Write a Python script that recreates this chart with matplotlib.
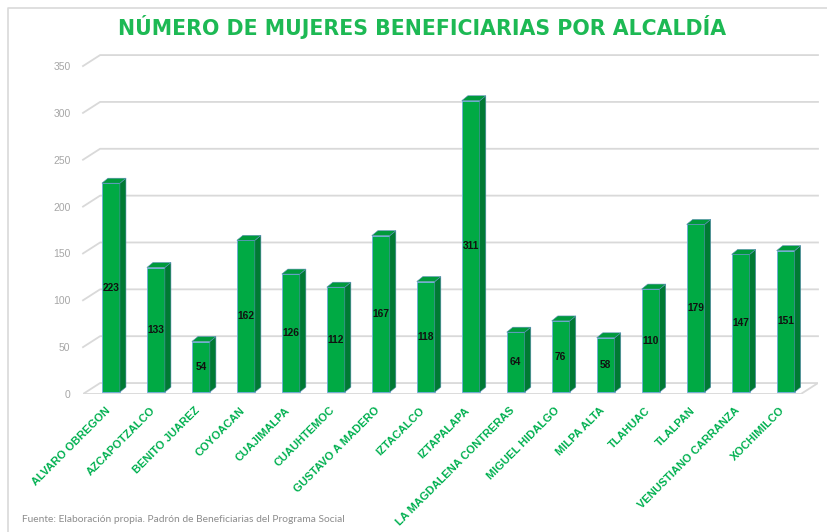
import numpy as np
import matplotlib
matplotlib.use('Agg')
from matplotlib import pyplot as plt
from matplotlib.patches import Polygon
from matplotlib.lines import Line2D
import matplotlib.transforms as mtransforms

alcaldias = ['ALVARO OBREGON', 'AZCAPOTZALCO', 'BENITO JUAREZ', 'COYOACAN',
             'CUAJIMALPA', 'CUAUHTEMOC', 'GUSTAVO A MADERO', 'IZTACALCO',
             'IZTAPALAPA', 'LA MAGDALENA CONTRERAS', 'MIGUEL HIDALGO',
             'MILPA ALTA', 'TLAHUAC', 'TLALPAN', 'VENUSTIANO CARRANZA',
             'XOCHIMILCO']
mujeres = [223, 133, 54, 162, 126, 112, 167, 118, 311, 64, 76, 58, 110, 179, 147, 151]
y_ticks = [0, 50, 100, 150, 200, 250, 300, 350]

title = 'NÚMERO DE MUJERES BENEFICIARIAS POR ALCALDÍA'
fuente = 'Fuente: Elaboración propia. Padrón de Beneficiarias del Programa Social'

green = '#00AA44'
green_side = '#007A33'
green_top = '#009A3C'
title_green = '#1DB954'
label_green = '#00B050'
grid_col = '#D9D9D9'
tick_col = '#A6A6A6'

# 3d look: depth of the floor / walls and of each bar (data units)
xmin, xmax = -0.62, 15.72
wall_dx, wall_dy = 0.38, 11.7
bar_w, bar_dx, bar_dy = 0.40, 0.135, 5.3
base = 2.0

fig = plt.figure(figsize=(8.28, 5.32), dpi=100)
fig.patch.set_facecolor('white')
ax = fig.add_axes([83 / 828, (532 - 394) / 532, 735 / 828, 346.7 / 532])
ax.set_xlim(xmin, xmax)
ax.set_ylim(0, 370)
for s in ax.spines.values():
    s.set_visible(False)

# floor and back-wall gridlines
for v in y_ticks:
    if v == 0:
        floor = Polygon([(xmin, 0), (xmin + wall_dx, wall_dy), (xmax, wall_dy),
                         (xmax - wall_dx, 0)], closed=True, fill=False,
                        edgecolor=grid_col, linewidth=1.3, zorder=1)
        ax.add_patch(floor)
    else:
        ax.plot([xmin, xmin + wall_dx, xmax], [v, v + wall_dy, v + wall_dy],
                color=grid_col, linewidth=1.3, zorder=1, clip_on=False)

x = np.arange(len(mujeres))
ax.bar(x, mujeres, width=bar_w, bottom=base, color=green,
       edgecolor='#6FA8DC', linewidth=0.6, zorder=3)
for xi, v in zip(x, mujeres):
    r = xi + bar_w / 2
    l = xi - bar_w / 2
    top = v + base
    side = Polygon([(r, base), (r + bar_dx, base + bar_dy), (r + bar_dx, top + bar_dy), (r, top)],
                   closed=True, facecolor=green_side, edgecolor='#5B8DB8', linewidth=0.4, zorder=3)
    lid = Polygon([(l, top), (l + bar_dx, top + bar_dy), (r + bar_dx, top + bar_dy), (r, top)],
                  closed=True, facecolor=green_top, edgecolor='#5B8DB8', linewidth=0.4, zorder=3)
    ax.add_patch(side)
    ax.add_patch(lid)
    ax.text(xi, base + v / 2, str(v), ha='center', va='center', fontsize=7.3,
            fontweight='bold', color='#111111', family='Liberation Sans', zorder=4)

ax.set_yticks(y_ticks)
ax.set_yticklabels([str(v) for v in y_ticks], color=tick_col, fontsize=7.5,
                   family='Liberation Sans')
ax.set_xticks(x)
ax.set_xticklabels(alcaldias, rotation=45, ha='right', rotation_mode='anchor',
                   color=label_green, fontsize=8, fontweight='bold',
                   family='Liberation Sans')
ax.tick_params(axis='both', length=0)
ax.tick_params(axis='y', pad=9)
ax.tick_params(axis='x', pad=8)
shift = mtransforms.ScaledTranslation(-6 / 100, 0, fig.dpi_scale_trans)
for lab in ax.get_xticklabels():
    lab.set_transform(lab.get_transform() + shift)

fig.text(0.51, 1 - 27 / 532, title, ha='center', va='center', fontsize=14.8,
         fontweight='bold', color=title_green, family='DejaVu Sans')
fig.text(22 / 828, 1 - 519 / 532, fuente, ha='left', va='center', fontsize=7.4,
         color='#8C8C8C', family='Lato')

# outer frame (top and left edges)
fig.add_artist(Line2D([8 / 828, 8 / 828, 1], [0, 1 - 8 / 532, 1 - 8 / 532],
                      transform=fig.transFigure, color='#D9D9D9', linewidth=1.2))

plt.savefig('out.png', dpi=100)
